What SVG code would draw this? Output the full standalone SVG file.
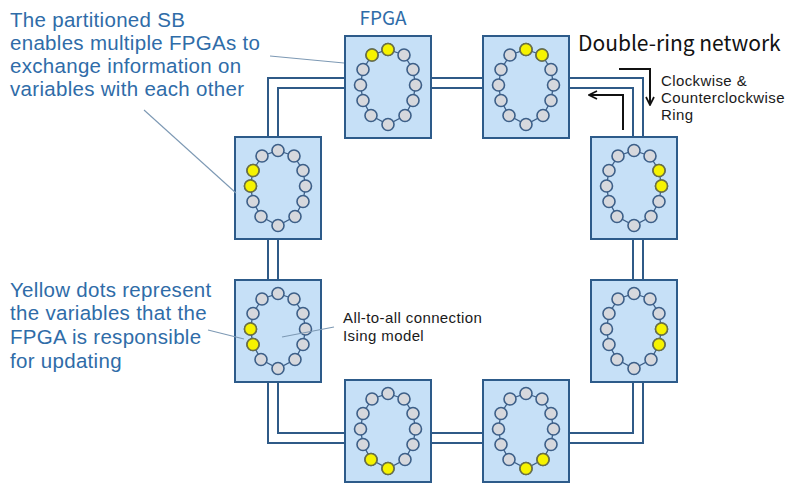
<svg xmlns="http://www.w3.org/2000/svg" xmlns:xlink="http://www.w3.org/1999/xlink" width="792" height="483" viewBox="0 0 792 483">
  <style>
    .ring { fill: none; stroke: #2f5a87; stroke-width: 2; }
    .box { fill: #c6e0f7; stroke: #2d5b8a; stroke-width: 2; }
    .link { fill: none; stroke: #3d5f88; stroke-width: 1.3; }
    .spin { fill: #d6d8dd; stroke: #3d5f88; stroke-width: 1.6; }
    .on { fill: #f6f300; stroke: #6e7140; stroke-width: 1.6; }
    .note { font-family: "Liberation Sans", Arial, sans-serif; fill: #2f6ca8; font-size: 20.5px; letter-spacing: 0.3px; }
    .label { font-family: "Liberation Sans", Arial, sans-serif; fill: #1a1a1a; font-size: 15px; letter-spacing: 0.4px; }
    .title { font-family: "Noto Sans CJK JP", "Noto Sans", sans-serif; fill: #111; font-size: 21px; }
    .chip { font-family: "Noto Sans CJK JP", "Noto Sans", sans-serif; fill: #2f6ca8; font-size: 19px; }
    .lead { fill: none; stroke: #7d99b4; stroke-width: 1.1; }
    .arrow { fill: none; stroke: #111; stroke-width: 2; }
  </style>
  <defs>
    <marker id="head" viewBox="0 0 10 10" refX="9" refY="5" markerWidth="10" markerHeight="10" markerUnits="userSpaceOnUse" orient="auto">
      <path d="M1,1 L9,5 L1,9" fill="none" stroke="#111" stroke-width="1.7"/>
    </marker>
    <!-- twelve spins on an oval, joined in a loop -->
    <g id="spins">
      <polygon class="link" points="0,-37.5 16,-32 25,-17.5 27.5,-2 25,13.5 17,28.5 0,37.5 -17,28.5 -25,13.5 -27.5,-2 -25,-17.5 -16,-32"/>
      <circle class="spin" cx="0" cy="-37.5" r="6"/>
      <circle class="spin" cx="16" cy="-32" r="6"/>
      <circle class="spin" cx="25" cy="-17.5" r="6"/>
      <circle class="spin" cx="27.5" cy="-2" r="6"/>
      <circle class="spin" cx="25" cy="13.5" r="6"/>
      <circle class="spin" cx="17" cy="28.5" r="6"/>
      <circle class="spin" cx="0" cy="37.5" r="6"/>
      <circle class="spin" cx="-17" cy="28.5" r="6"/>
      <circle class="spin" cx="-25" cy="13.5" r="6"/>
      <circle class="spin" cx="-27.5" cy="-2" r="6"/>
      <circle class="spin" cx="-25" cy="-17.5" r="6"/>
      <circle class="spin" cx="-16" cy="-32" r="6"/>
    </g>
  </defs>

  <rect width="792" height="483" fill="#ffffff"/>

  <!-- double ring links between FPGAs -->
  <g id="connectors">
    <rect class="ring" x="268" y="78" width="375" height="365"/>
    <rect class="ring" x="278" y="88" width="355" height="345"/>
  </g>

  <!-- FPGA boards -->
  <g id="fpga-top-left" transform="translate(388,87)">
    <rect class="box" x="-43" y="-51" width="86" height="102"/>
    <use xlink:href="#spins"/>
    <circle class="on" cx="0" cy="-37.5" r="6"/>
    <circle class="on" cx="-16" cy="-32" r="6"/>
  </g>
  <g id="fpga-top-right" transform="translate(526,87)">
    <rect class="box" x="-43" y="-51" width="86" height="102"/>
    <use xlink:href="#spins"/>
    <circle class="on" cx="0" cy="-37.5" r="6"/>
    <circle class="on" cx="16" cy="-32" r="6"/>
  </g>
  <g id="fpga-right-upper" transform="translate(634,188)">
    <rect class="box" x="-43" y="-51" width="86" height="102"/>
    <use xlink:href="#spins"/>
    <circle class="on" cx="25" cy="-17.5" r="6"/>
    <circle class="on" cx="27.5" cy="-2" r="6"/>
  </g>
  <g id="fpga-right-lower" transform="translate(634,331)">
    <rect class="box" x="-43" y="-51" width="86" height="102"/>
    <use xlink:href="#spins"/>
    <circle class="on" cx="27.5" cy="-2" r="6"/>
    <circle class="on" cx="25" cy="13.5" r="6"/>
  </g>
  <g id="fpga-bottom-right" transform="translate(526,431)">
    <rect class="box" x="-43" y="-51" width="86" height="102"/>
    <use xlink:href="#spins"/>
    <circle class="on" cx="17" cy="28.5" r="6"/>
    <circle class="on" cx="0" cy="37.5" r="6"/>
  </g>
  <g id="fpga-bottom-left" transform="translate(388,431)">
    <rect class="box" x="-43" y="-51" width="86" height="102"/>
    <use xlink:href="#spins"/>
    <circle class="on" cx="0" cy="37.5" r="6"/>
    <circle class="on" cx="-17" cy="28.5" r="6"/>
  </g>
  <g id="fpga-left-lower" transform="translate(278,331)">
    <rect class="box" x="-43" y="-51" width="86" height="102"/>
    <use xlink:href="#spins"/>
    <circle class="on" cx="-25" cy="13.5" r="6"/>
    <circle class="on" cx="-27.5" cy="-2" r="6"/>
  </g>
  <g id="fpga-left-upper" transform="translate(278,188)">
    <rect class="box" x="-43" y="-51" width="86" height="102"/>
    <use xlink:href="#spins"/>
    <circle class="on" cx="-27.5" cy="-2" r="6"/>
    <circle class="on" cx="-25" cy="-17.5" r="6"/>
  </g>

  <!-- leader lines -->
  <g id="leaders">
    <line class="lead" x1="270" y1="56" x2="344" y2="63"/>
    <line class="lead" x1="144" y1="110" x2="236" y2="193"/>
    <line class="lead" x1="208" y1="330" x2="244" y2="339"/>
    <line class="lead" x1="282" y1="337" x2="334" y2="327"/>
  </g>

  <!-- direction arrows -->
  <g id="direction">
    <path class="arrow" d="M619,69 H650 V105" marker-end="url(#head)"/>
    <path class="arrow" d="M623,130 V95 H589" marker-end="url(#head)"/>
  </g>

  <!-- labels -->
  <g id="labels">
    <text class="chip" x="383" y="25" text-anchor="middle">FPGA</text>
    <text class="title" x="578" y="51">Double-ring network</text>
    <text class="label"><tspan x="661" y="86">Clockwise &amp;</tspan><tspan x="661" y="103">Counterclockwise</tspan><tspan x="661" y="120">Ring</tspan></text>
    <text class="label"><tspan x="343" y="323">All-to-all connection</tspan><tspan x="343" y="341">Ising model</tspan></text>
    <text class="note"><tspan x="10" y="27">The partitioned SB</tspan><tspan x="10" y="50">enables multiple FPGAs to</tspan><tspan x="10" y="73">exchange information on</tspan><tspan x="10" y="96">variables with each other</tspan></text>
    <text class="note"><tspan x="10" y="297">Yellow dots represent</tspan><tspan x="10" y="320">the variables that the</tspan><tspan x="10" y="344">FPGA is responsible</tspan><tspan x="10" y="368">for updating</tspan></text>
  </g>
</svg>
